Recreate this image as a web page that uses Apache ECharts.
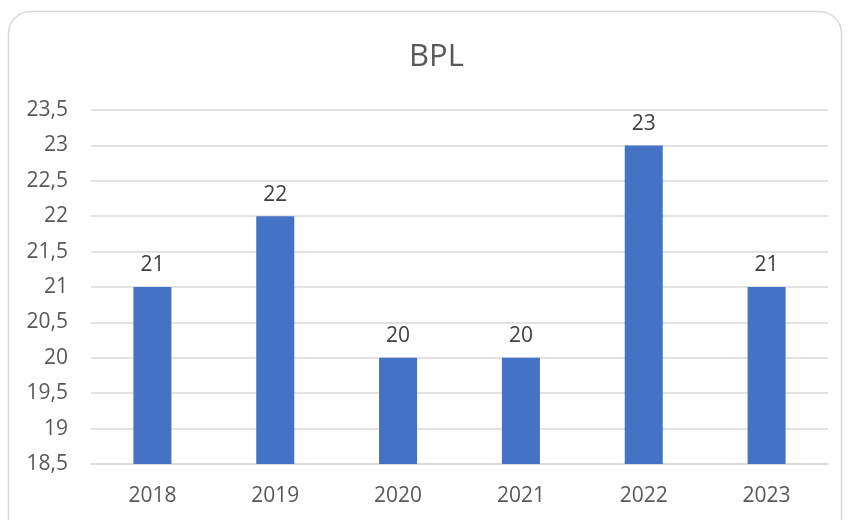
<!DOCTYPE html>
<html><head><meta charset="utf-8">
<script src="https://cdn.jsdelivr.net/npm/echarts@6/dist/echarts.min.js"></script>
<style>html,body{margin:0;padding:0;background:#fff}#c{width:849px;height:520px}</style>
</head><body><div id="c"></div>
<script>
const categories = ['2018','2019','2020','2021','2022','2023'];
const values = [21, 22, 20, 20, 23, 21];
const yMin = 18.5, yMax = 23.5, yStep = 0.5;

const F = 'Open Sans';
const chart = echarts.init(document.getElementById('c'), null, {renderer:'canvas'});
chart.setOption({
  animation:false,
  textStyle:{fontFamily:F},
  graphic:[{type:'rect', shape:{x:8.5,y:11.5,width:833,height:530,r:22}, style:{fill:'none',stroke:'#d9d9d9',lineWidth:1.5}, z:-1}],
  title:{text:'BPL', left:404, top:37, textStyle:{fontFamily:F, fontSize:31, fontWeight:'normal', color:'#595959'}},
  grid:{left:91, right:21, top:110, bottom:56, containLabel:false},
  xAxis:{type:'category', data:categories,
    axisLine:{lineStyle:{color:'#d9d9d9', width:1.5}}, axisTick:{show:false},
    axisLabel:{color:'#595959', fontSize:21, margin:22, fontFamily:F}},
  yAxis:{type:'value', min:yMin, max:yMax, interval:yStep,
    axisLine:{show:false}, axisTick:{show:false},
    splitLine:{lineStyle:{color:'#d9d9d9', width:1.5}},
    axisLabel:{color:'#595959', fontSize:21, margin:23, fontFamily:F,
      formatter:v=>String(v).replace('.',',')}},
  series:[{type:'bar', data:values, barWidth:38, itemStyle:{color:'#4472C4'},
    label:{show:true, position:'top', distance:11, color:'#404040', fontSize:21, fontFamily:F}}]
});
</script></body></html>
